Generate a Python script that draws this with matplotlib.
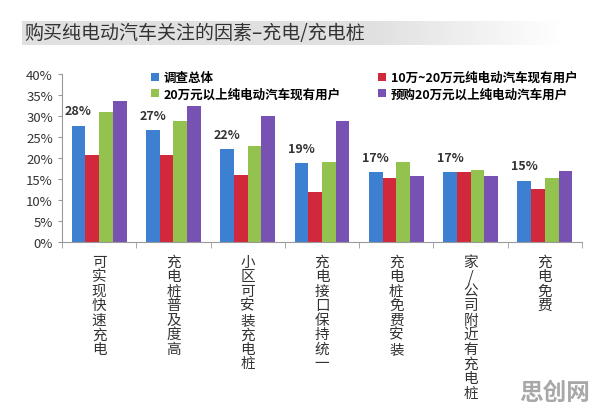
import numpy as np
import matplotlib.pyplot as plt
from matplotlib.ticker import FuncFormatter

plt.rcParams['font.family'] = ['Noto Sans CJK SC', 'DejaVu Sans']

# 数据
categories = ['可实现快速充电', '充电桩普及度高', '小区可安装充电桩', '充电接口保持统一',
              '充电桩免费安装', '家/公司附近有充电桩', '充电免费']
series_names = ['调查总体', '10万~20万元纯电动汽车现有用户',
                '20万元以上纯电动汽车现有用户', '预购20万元以上纯电动汽车用户']
overall = [27.7, 26.7, 22.1, 18.8, 16.6, 16.6, 14.6]
mid_owner = [20.8, 20.8, 16.0, 12.0, 15.2, 16.7, 12.6]
high_owner = [30.9, 28.9, 22.9, 19.1, 19.1, 17.1, 15.2]
high_buyer = [33.5, 32.3, 29.9, 28.7, 15.8, 15.8, 17.0]
top_labels = ['28%', '27%', '22%', '19%', '17%', '17%', '15%']

colors = ['#3d7fd1', '#d2283b', '#93c24f', '#7752b3']
series = [overall, mid_owner, high_owner, high_buyer]

fig = plt.figure(figsize=(5.96, 4.14), dpi=100)

# 标题灰色渐变背景
band = fig.add_axes([22 / 596, 1 - 46 / 414, 540 / 596, 24 / 414])
grad = np.ones((1, 300, 4))
grad[..., :3] = 0.88
alpha = np.clip((1 - np.linspace(0, 1, 300)) / 0.35, 0, 1)
grad[0, :, 3] = alpha
band.imshow(grad, aspect='auto', extent=[0, 1, 0, 1])
band.axis('off')
fig.text(24 / 596, 1 - 34 / 414, '购买纯电动汽车关注的因素–充电/充电桩',
         fontsize=13.7, color='#333333', va='center', ha='left')

ax = fig.add_axes([62 / 596, 1 - 243 / 414, 520 / 596, 168 / 414])

x = np.arange(len(categories))
w = 0.185
bars = []
for i, (vals, c) in enumerate(zip(series, colors)):
    b = ax.bar(x + (i - 1.5) * w, vals, width=w, color=c, label=series_names[i])
    bars.append(b)

for xi, v, lab in zip(x, overall, top_labels):
    ax.annotate(lab, (xi - 1.5 * w, v), xytext=(0, 6), textcoords='offset points',
                ha='center', va='bottom', fontsize=9, fontweight='bold', color='#333333')

ax.set_xlim(-0.5, len(categories) - 0.5)
ax.set_ylim(0, 40)
ax.set_yticks(np.arange(0, 41, 5))
ax.yaxis.set_major_formatter(FuncFormatter(lambda v, p: f'{v:.0f}%'))
ax.tick_params(axis='y', labelsize=9.5, colors='#333333', length=3, color='#999999')

ax.set_xticks(x)
ax.set_xticklabels(['\n'.join(c) for c in categories], fontsize=10.5, color='#333333',
                   linespacing=1.05)
ax.tick_params(axis='x', length=0, pad=9)
ax.set_xticks(np.arange(-0.5, len(categories), 1), minor=True)
ax.tick_params(axis='x', which='minor', length=4, color='#999999')

for s in ['top', 'right']:
    ax.spines[s].set_visible(False)
for s in ['left', 'bottom']:
    ax.spines[s].set_color('#999999')

handles = [bars[0], bars[2], bars[1], bars[3]]
ax.legend(handles, [series_names[0], series_names[2], series_names[1], series_names[3]],
          ncol=2, loc='upper left', bbox_to_anchor=(0.15, 1.085), frameon=False,
          handlelength=0.6, handleheight=0.6, handletextpad=0.4,
          columnspacing=3.0, labelspacing=0.3, prop={'weight': 'bold', 'size': 9})

fig.text(0.99, 0.022, '思创网', fontsize=17, fontweight='bold', color='#a8a8a8',
         ha='right', va='bottom')

fig.savefig('out.png', dpi=100)
